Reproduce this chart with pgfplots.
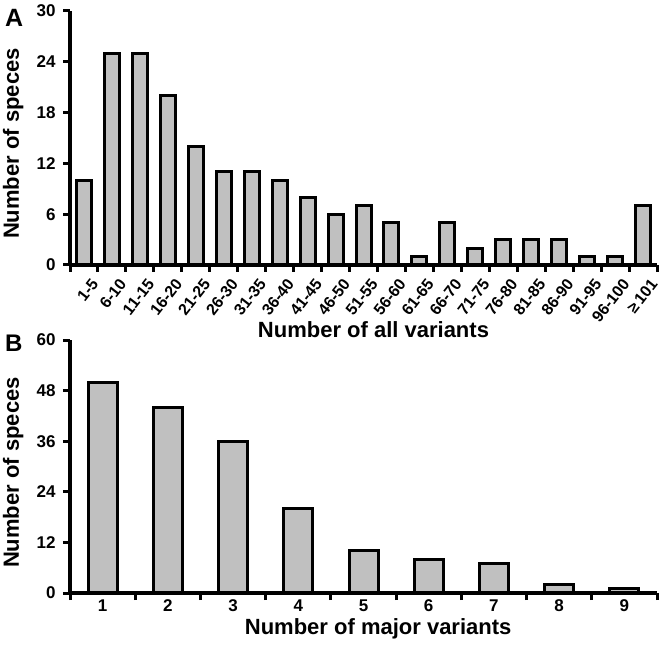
\documentclass[border=0pt]{standalone}
\usepackage{pgfplots}
\pgfplotsset{compat=1.18}
\usepackage{pgfplotstable}
\usepackage{fontspec}
\setmainfont{Liberation Sans}
\definecolor{barfill}{RGB}{192,192,192}

\pgfplotstableread{
x y
1 10
2 25
3 25
4 20
5 14
6 11
7 11
8 10
9 8
10 6
11 7
12 5
13 1
14 5
15 2
16 3
17 3
18 3
19 1
20 1
21 7
}\dataA

\pgfplotstableread{
x y
1 50
2 44
3 36
4 20
5 10
6 8
7 7
8 2
9 1
}\dataB

\pgfplotsset{
  common/.style={
    scale only axis, axis on top, clip=false,
    axis x line*=bottom, axis y line*=left,
    axis line style={-, line width=3.5pt},
    tick align=outside, major tick length=7pt, minor tick length=7pt,
    tick style={black, line width=3pt},
    yticklabel style={font=\bfseries\fontsize{17}{17}\selectfont, xshift=-4pt},
    /pgf/number format/assume math mode=true,
    label style={font=\bfseries\fontsize{22}{22}\selectfont},
    ybar, enlargelimits=false,
  }
}

\begin{document}
\begin{tikzpicture}
\path[use as bounding box] (0pt,0pt) rectangle (664pt,648pt);

\begin{axis}[common,
  at={(70pt,383pt)}, anchor=south west,
  width=587pt, height=254pt,
  xmin=0.5, xmax=21.5, ymin=0, ymax=30,
  ytick={0,6,...,30},
  xtick={0.5,1.5,...,21.5}, xticklabels={},
  extra x ticks={1,...,21},
  extra x tick labels={1-5,6-10,11-15,16-20,21-25,26-30,31-35,36-40,41-45,46-50,51-55,56-60,61-65,66-70,71-75,76-80,81-85,86-90,91-95,96-100,{≥\,101}},
  extra x tick style={major tick length=0pt},
  xticklabel style={font=\bfseries\fontsize{16}{16}\selectfont, inner sep=0pt, xshift=11pt, yshift=-16pt, rotate=52, anchor=east},
  xlabel={Number of all variants},
  ylabel={Number of speces},
  xlabel style={at={(axis description cs:0.517,-0.287)}, anchor=base},
  ylabel style={at={(axis description cs:-0.087,0.478)}, anchor=base, rotate=0},
]
\addplot[fill=barfill, draw=black, line width=3pt, bar width=15pt] table[x=x,y=y]{\dataA};
\end{axis}

\begin{axis}[common,
  at={(70pt,55pt)}, anchor=south west,
  width=587pt, height=253pt,
  xmin=0.5, xmax=9.5, ymin=0, ymax=60,
  ytick={0,12,...,60},
  xtick={0.5,1.5,...,9.5}, xticklabels={},
  extra x ticks={1,...,9},
  extra x tick labels={1,2,3,4,5,6,7,8,9},
  extra x tick style={major tick length=0pt},
  xticklabel style={font=\bfseries\fontsize{17}{17}\selectfont, yshift=-3pt},
  xlabel={Number of major variants},
  ylabel={Number of speces},
  xlabel style={at={(axis description cs:0.525,-0.166)}, anchor=base},
  ylabel style={at={(axis description cs:-0.087,0.476)}, anchor=base, rotate=0},
]
\addplot[fill=barfill, draw=black, line width=3pt, bar width=29pt] table[x=x,y=y]{\dataB};
\end{axis}

\node[anchor=base west, inner sep=0pt, font=\bfseries\fontsize{25}{25}\selectfont] at (5pt,621pt) {A};
\node[anchor=base west, inner sep=0pt, font=\bfseries\fontsize{24}{24}\selectfont] at (5pt,296pt) {B};
\end{tikzpicture}
\end{document}
